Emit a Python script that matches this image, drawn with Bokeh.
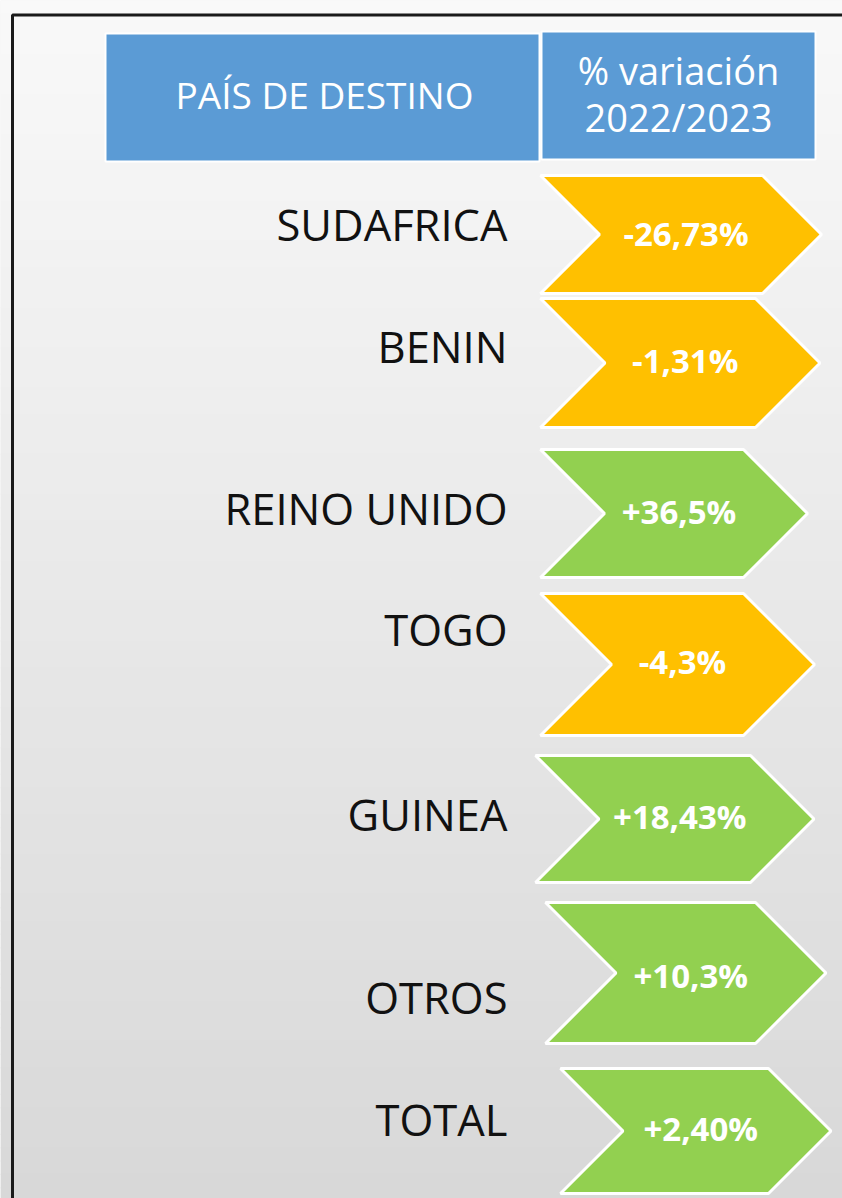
from bokeh.plotting import figure
from bokeh.models import Range1d
from bokeh.embed import file_html
from bokeh.resources import INLINE
from bokeh.core.properties import value

# ---------------- data ----------------
countries = ["SUDAFRICA", "BENIN", "REINO UNIDO", "TOGO", "GUINEA", "OTROS", "TOTAL"]
variation = [-26.73, -1.31, 36.5, -4.3, 18.43, 10.3, 2.40]
variation_labels = ["-26,73%", "-1,31%", "+36,5%", "-4,3%", "+18,43%", "+10,3%", "+2,40%"]
header_left = "PAÍS DE DESTINO"
header_right = ["% variación", "2022/2023"]

# ---------------- layout (page pixels) ----------------
chev_left = [540, 540, 540, 540, 535, 545, 560]
chev_right = [762, 755, 743, 743, 750, 755, 768]
chev_top = [175, 298, 449, 593, 755, 902, 1068]
chev_bottom = [293, 427, 577, 735, 882, 1043, 1193]
name_baseline = [238, 360, 522, 643, 828, 1011, 1133]
value_baseline = [245, 372, 523, 673, 828, 987, 1140]
name_right = 507
NAME_SHIFT = -14     # renderer baseline correction
VALUE_SHIFT = -12
HEAD_SHIFT = -14

NEG_COLOR = "#FFC000"
POS_COLOR = "#92D050"
BLUE = "#5B9BD5"
FONT = value("Open Sans")

W, H = 842, 1198
p = figure(width=W, height=H, output_backend="svg", toolbar_location=None,
           x_range=Range1d(0, W), y_range=Range1d(H, 0),
           min_border=0)
p.axis.visible = False
p.grid.visible = False
p.outline_line_color = None
p.background_fill_color = "#f0f0f0"
p.border_fill_color = "#f0f0f0"

# background gradient (decoration)
n = 90
band = 1200 / n
bl, br, bt, bb, bc = [], [], [], [], []
for i in range(n):
    y0 = i * band
    g = int(round(249 - 33 * (y0 + band / 2) / 1198))
    bl.append(0); br.append(842); bt.append(y0); bb.append(y0 + band + 1)
    bc.append("#%02x%02x%02x" % (g, g, g))
p.quad(left=bl, right=br, top=bt, bottom=bb, fill_color=bc, line_color=None)

# frame border
p.line(x=[12, 12, 842], y=[1200, 14.5, 14.5], line_color="#1a1a1a", line_width=3)

# header boxes
p.quad(left=[105, 541], right=[539, 815], top=[33, 31], bottom=[161, 159],
       fill_color=BLUE, line_color="white", line_width=2)
p.text(x=[324], y=[108 + HEAD_SHIFT], text=[header_left], text_align="center",
       text_baseline="alphabetic", text_font=FONT, text_font_size="37px", text_color="white")
p.text(x=[678, 678], y=[83 + HEAD_SHIFT, 130 + HEAD_SHIFT], text=header_right,
       text_align="center", text_baseline="alphabetic", text_font=FONT,
       text_font_size="38px", text_color="white")

# chevrons
xs, ys, colors, vx = [], [], [], []
for L, R, T, B, v in zip(chev_left, chev_right, chev_top, chev_bottom, variation):
    h = B - T
    mid = (T + B) / 2
    tip = R + h / 2
    notch = L + h / 2
    xs.append([L, R, tip, R, L, notch])
    ys.append([T, T, mid, B, B, mid])
    colors.append(NEG_COLOR if v < 0 else POS_COLOR)
    vx.append((notch + R) / 2 + 5)
p.patches(xs=xs, ys=ys, fill_color=colors, line_color="white", line_width=3)

p.text(x=vx, y=[b + VALUE_SHIFT for b in value_baseline], text=variation_labels,
       text_align="center", text_baseline="alphabetic", text_font=FONT,
       text_font_style="bold", text_font_size="33px", text_color="white")

# country names
p.text(x=[name_right] * len(countries), y=[b + NAME_SHIFT for b in name_baseline],
       text=countries, text_align="right", text_baseline="alphabetic", text_font=FONT,
       text_font_size="43.5px", text_color="#111111")

open("out.html", "w").write(file_html(p, INLINE))
